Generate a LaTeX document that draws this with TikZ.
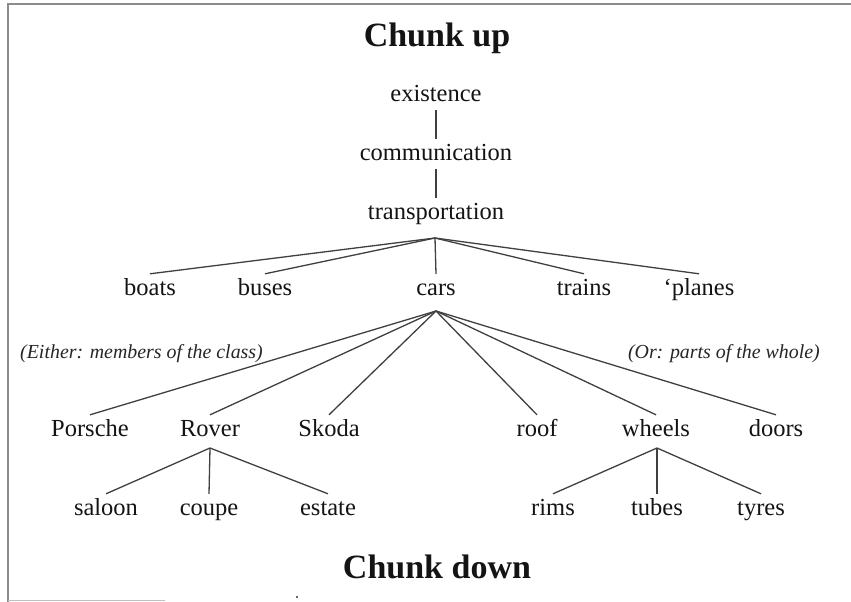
\documentclass[tikz,border=0pt]{standalone}
\usepackage{fontspec}
\setmainfont{Liberation Serif}
\begin{document}
\begin{tikzpicture}[x=1pt,y=-1pt,
 lbl/.style={font=\fontsize{24.5}{28}\selectfont, text=black!92, inner sep=4pt, text height=17pt, text depth=5pt, anchor=base},
 ttl/.style={font=\fontsize{34}{40}\selectfont\bfseries, text=black!92, anchor=base, inner sep=0pt},
 note/.style={font=\fontsize{19.9}{23}\selectfont\itshape, text=black!85, inner sep=0pt},
 link/.style={draw=black!75, line width=1.3pt},
 frame/.style={draw=black!45, line width=1.6pt}]
\useasboundingbox (0,0) rectangle (851,602);
\fill[white] (0,0) rectangle (851,602);
% frame of the scan
\draw[frame] (8,602) -- (8,4) -- (851,4);
\draw[draw=black!25, line width=1pt] (8,600) -- (165,600);
\fill[black!80] (297,597) circle (1.2);

\node[ttl] (up) at (437,47) {Chunk up};
\node[lbl] (exist) at (436,101) {existence};
\node[lbl] (comm) at (436,160) {communication};
\node[lbl] (trans) at (436,219) {transportation};
\coordinate (tA) at (435,238);

\node[lbl] (boats) at (150,295) {boats};
\node[lbl] (buses) at (265,295) {buses};
\node[lbl] (cars) at (436,295) {cars};
\node[lbl] (trains) at (584,295) {trains};
\node[lbl] (planes) at (699,295) {‘planes};
\coordinate (cA) at (436,311);

\node[note, anchor=base west] (either) at (20,358) {(Either: members of the class)};
\node[note, anchor=base east] (or) at (820,358) {(Or: parts of the whole)};

\node[lbl] (porsche) at (90,436) {Porsche};
\node[lbl] (rover) at (210,436) {Rover};
\node[lbl] (skoda) at (329,436) {Skoda};
\node[lbl] (roof) at (537,436) {roof};
\node[lbl] (wheels) at (656,436) {wheels};
\node[lbl] (doors) at (776,436) {doors};
\coordinate (rA) at (210,448);
\coordinate (wA) at (657,448);

\node[lbl] (saloon) at (106,515) {saloon};
\node[lbl] (coupe) at (209,515) {coupe};
\node[lbl] (estate) at (328,515) {estate};
\node[lbl] (rims) at (553,515) {rims};
\node[lbl] (tubes) at (657,515) {tubes};
\node[lbl] (tyres) at (761,515) {tyres};

\node[ttl] (down) at (437,578) {Chunk down};

\draw[link] (exist.south) -- (comm.north);
\draw[link] (comm.south) -- (trans.north);
\foreach \n in {boats,buses,cars,trains,planes}
  \draw[link] (tA) -- (\n.north);
\foreach \n in {porsche,rover,skoda,roof,wheels,doors}
  \draw[link] (cA) -- (\n.north);
\foreach \n in {saloon,coupe,estate}
  \draw[link] (rA) -- (\n.north);
\foreach \n in {rims,tubes,tyres}
  \draw[link] (wA) -- (\n.north);
\end{tikzpicture}
\end{document}
